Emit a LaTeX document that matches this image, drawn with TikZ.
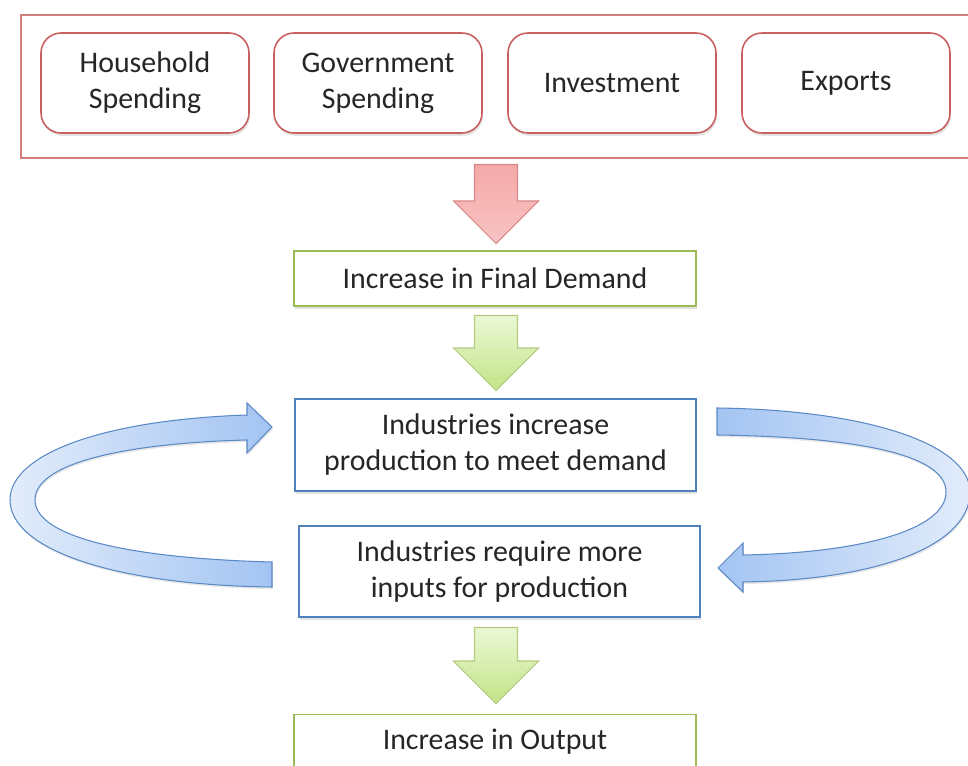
\documentclass[tikz,border=0pt]{standalone}
\usepackage{fontspec}
\setmainfont{Carlito}
\usepackage{tikz}
\usetikzlibrary{shapes,arrows,shadows,positioning}

\definecolor{SpendRed}{HTML}{C9605E}
\definecolor{FrameRed}{HTML}{D27C7C}
\definecolor{DemGreen}{HTML}{9BBB59}
\definecolor{IndBlue}{HTML}{4F81BD}
\definecolor{LoopLine}{HTML}{5A89C6}
\definecolor{LoopLight}{HTML}{E2ECFB}
\definecolor{LoopDark}{HTML}{A3C4F2}
\definecolor{TextDark}{HTML}{262626}
\definecolor{ArrGreenTop}{HTML}{EBF8D6}
\definecolor{ArrGreenBot}{HTML}{C2E486}
\definecolor{ArrRedTop}{HTML}{F5A9A9}
\definecolor{ArrRedBot}{HTML}{F9C3C3}

\begin{document}
\begin{tikzpicture}[x=0.02cm,y=-0.02cm]
			\tikzstyle{Txt}		= [text=TextDark, font=\fontsize{17}{20.5}\selectfont, align=center, inner sep=0pt]
			\tikzstyle{Shadow}	= [drop shadow={shadow xshift=0.6pt, shadow yshift=-1.6pt, opacity=0.22}]
			\tikzstyle{Spend}	= [Txt, Shadow, rectangle, rounded corners=0.4cm, draw=SpendRed, line width=0.9pt, fill=white, minimum width=4.16cm, minimum height=2cm]
			\tikzstyle{GreenBox}	= [Txt, Shadow, rectangle, draw=DemGreen, line width=0.9pt, fill=white, minimum width=8.04cm]
			\tikzstyle{BlueBox}	= [Txt, Shadow, rectangle, draw=IndBlue, line width=0.9pt, fill=white, minimum width=8.02cm, minimum height=1.83cm]
			\tikzstyle{Down}	= [single arrow, shape border rotate=270, anchor=tail, inner sep=0.42cm, single arrow head extend=0.42cm, line width=0.6pt]
			\tikzstyle{RedDown}	= [Down, draw=FrameRed!90, top color=ArrRedTop, bottom color=ArrRedBot]
			\tikzstyle{GreenDown}	= [Down, draw=DemGreen!75, top color=ArrGreenTop, bottom color=ArrGreenBot]
			\tikzstyle{Loop}	= [draw=LoopLine, line width=0.6pt, drop shadow={shadow xshift=0.5pt, shadow yshift=-1.2pt, opacity=0.18}]

			\useasboundingbox (0,0) rectangle (968,766);
			\clip (0,0) rectangle (968,766);

			% spending sources
			\draw [draw=FrameRed, line width=0.9pt] (21,15) rectangle (990,158);
			\node (hhold)  at (145,83) [Spend] {Household\\Spending};
			\node (govt)   at (378,83) [Spend] {Government\\Spending};
			\node (invest) at (612,83) [Spend] {Investment};
			\node (export) at (846,83) [Spend] {Exports};

			% chain of effects
			\node (arrA)   at (496,164) [RedDown, minimum height=1.58cm] {};
			\node (findem) at (495,278.5) [GreenBox, minimum height=1.1cm] {Increase in Final Demand};
			\node (arrB)   at (496,315) [GreenDown, minimum height=1.5cm] {};
			\node (indinc) at (495.5,445) [BlueBox] {Industries increase\\production to meet demand};
			\node (indreq) at (499.5,571.5) [BlueBox] {Industries require more\\inputs for production};
			\node (arrC)   at (496,627) [GreenDown, minimum height=1.52cm] {};
			\node (output) at (495,742) [GreenBox, minimum height=1.1cm] {Increase in Output};

			% feedback loops
			\shadedraw [Loop, left color=LoopLight, right color=LoopDark]
				(272,562) .. controls (120,558) and (35,535) .. (35,500)
				.. controls (35,462) and (130,443) .. (247,440)
				-- (247,453) -- (272,427) -- (247,403) -- (247,415)
				.. controls (100,420) and (10,455) .. (10,500)
				.. controls (10,548) and (110,585) .. (272,587) -- cycle;
			\shadedraw [Loop, left color=LoopDark, right color=LoopLight]
				(717,408) .. controls (870,410) and (970,445) .. (970,492)
				.. controls (970,545) and (880,580) .. (743,582)
				-- (743,592) -- (718,568) -- (743,543) -- (743,555)
				.. controls (860,553) and (946,530) .. (946,492)
				.. controls (946,455) and (860,437) .. (717,435) -- cycle;
\end{tikzpicture}
\end{document}
